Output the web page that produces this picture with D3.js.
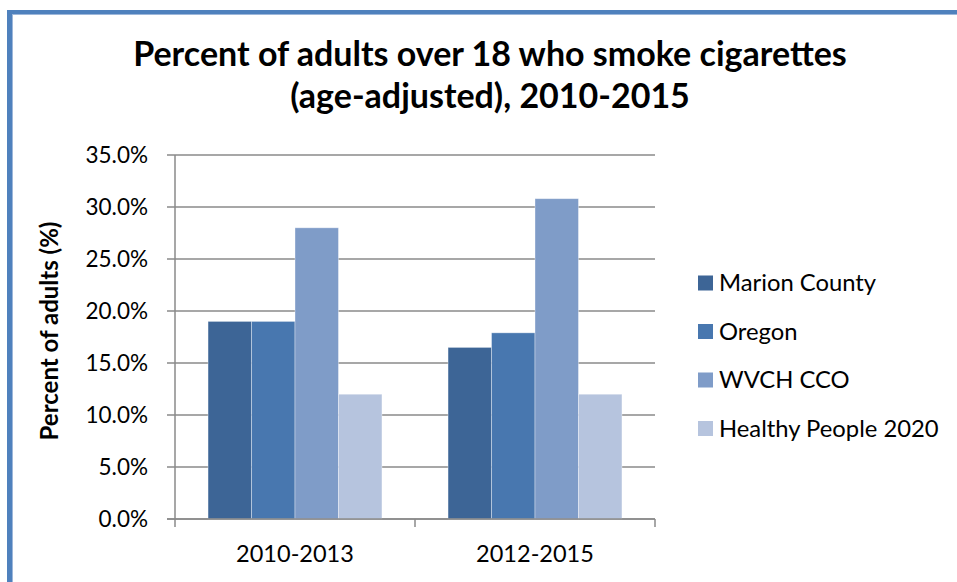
<!DOCTYPE html>
<html>
<head>
<meta charset="utf-8">
<script src="https://cdn.jsdelivr.net/npm/d3@7"></script>
<style>
  html, body { margin: 0; padding: 0; background: #fff; }
  svg { display: block; }
  text { font-family: Lato, "Open Sans", sans-serif; fill: #000; }
</style>
</head>
<body>
<div id="chart"></div>
<script>
const titleLines = ["Percent of adults over 18 who smoke cigarettes", "(age-adjusted), 2010-2015"];
const yAxisTitle = "Percent of adults (%)";
const categories = ["2010-2013", "2012-2015"];
const seriesNames = ["Marion County", "Oregon", "WVCH CCO", "Healthy People 2020"];
const marionCounty = [19.0, 16.5];
const oregon = [19.0, 17.9];
const wvchCco = [28.0, 30.8];
const healthyPeople2020 = [12.0, 12.0];
const yTicks = [0, 5, 10, 15, 20, 25, 30, 35];
const colors = ["#3D6596", "#4877AF", "#7F9CC8", "#B6C4DE"];

const seriesValues = [marionCounty, oregon, wvchCco, healthyPeople2020];

const W = 957, H = 582;
const svg = d3.select("#chart").append("svg").attr("width", W).attr("height", H);

// frame
svg.append("rect").attr("x", 7).attr("y", 10).attr("width", W).attr("height", 4).attr("fill", "#4F81BD");
svg.append("rect").attr("x", 7).attr("y", 14).attr("width", W).attr("height", 1).attr("fill", "#9DB7DA");
svg.append("rect").attr("x", 7).attr("y", 10).attr("width", 5).attr("height", H).attr("fill", "#4F81BD");
svg.append("rect").attr("x", 12).attr("y", 14).attr("width", 1).attr("height", H).attr("fill", "#9DB7DA");

// title
svg.selectAll("text.title").data(titleLines).join("text")
  .attr("class", "title")
  .attr("x", 490).attr("y", (d, i) => 66 + i * 42)
  .attr("text-anchor", "middle")
  .style("font-size", "34px").style("font-weight", "bold")
  .text(d => d);

const x0 = 175, x1 = 655, yTop = 155, yBot = 519;
const y = d3.scaleLinear().domain([0, 35]).range([yBot, yTop]);
const xBand = d3.scaleBand().domain(categories).range([x0, x1]).paddingInner(0).paddingOuter(0);
const xSub = d3.scaleBand().domain(seriesNames).range([0, xBand.bandwidth()]).paddingInner(0).paddingOuter(0.76);

// gridlines
svg.append("g").selectAll("line").data(yTicks).join("line")
  .attr("x1", x0 - 8).attr("x2", x1)
  .attr("y1", d => y(d)).attr("y2", d => y(d))
  .attr("stroke", "#8A8A8A").attr("stroke-width", 1.5);

// y axis
const yAxis = d3.axisLeft(y).tickValues(yTicks).tickSize(0).tickPadding(0)
  .tickFormat(d => d.toFixed(1) + "%");
const gy = svg.append("g").attr("transform", `translate(${x0},0)`).call(yAxis);
gy.select(".domain").remove();
gy.selectAll("text").attr("x", -27).attr("dy", "0.35em")
  .style("font-size", "22.5px").style("font-family", "Lato, 'Open Sans', sans-serif").attr("fill", "#000");

// bars
const groups = svg.append("g").selectAll("g").data(categories).join("g")
  .attr("transform", d => `translate(${xBand(d)},0)`);
groups.selectAll("rect").data((c, ci) => seriesNames.map((s, si) => ({ s, si, v: seriesValues[si][ci] })))
  .join("rect")
  .attr("x", d => xSub(d.s))
  .attr("width", xSub.bandwidth())
  .attr("y", d => y(d.v))
  .attr("height", d => yBot - y(d.v))
  .attr("fill", d => colors[d.si])
  .attr("stroke", "rgba(255,255,255,0.45)").attr("stroke-width", 0.8);

// y axis line
svg.append("line").attr("x1", x0).attr("x2", x0).attr("y1", yTop).attr("y2", yBot)
  .attr("stroke", "#8A8A8A").attr("stroke-width", 1.5);

// x axis
const xAxis = d3.axisBottom(xBand).tickSize(0).tickPadding(0);
const gx = svg.append("g").attr("transform", `translate(0,${yBot})`).call(xAxis);
gx.select(".domain").remove();
gx.selectAll("text").attr("y", 43).attr("dy", 0)
  .style("font-size", "23.5px").style("font-family", "Lato, 'Open Sans', sans-serif").attr("fill", "#000");
svg.append("line").attr("x1", x0 - 8).attr("x2", x1).attr("y1", yBot).attr("y2", yBot)
  .attr("stroke", "#8A8A8A").attr("stroke-width", 1.5);
const boundaries = [x0].concat(categories.map(c => xBand(c) + xBand.bandwidth()));
svg.append("g").selectAll("line").data(boundaries).join("line")
  .attr("x1", d => d).attr("x2", d => d).attr("y1", yBot).attr("y2", yBot + 8)
  .attr("stroke", "#8A8A8A").attr("stroke-width", 1.5);

// y axis title
svg.append("text")
  .attr("transform", "translate(58,331) rotate(-90)")
  .attr("text-anchor", "middle")
  .style("font-size", "24px").style("font-weight", "bold")
  .text(yAxisTitle);

// legend
const leg = svg.append("g").selectAll("g").data(seriesNames).join("g")
  .attr("transform", (d, i) => `translate(698,${283 + i * 48.5})`);
leg.append("rect").attr("x", 0).attr("y", -7.5).attr("width", 15).attr("height", 15)
  .attr("fill", (d, i) => colors[i]);
leg.append("text").attr("x", 21).attr("y", 0).attr("dy", "0.35em")
  .style("font-size", "23.8px").text(d => d);
</script>
</body>
</html>
